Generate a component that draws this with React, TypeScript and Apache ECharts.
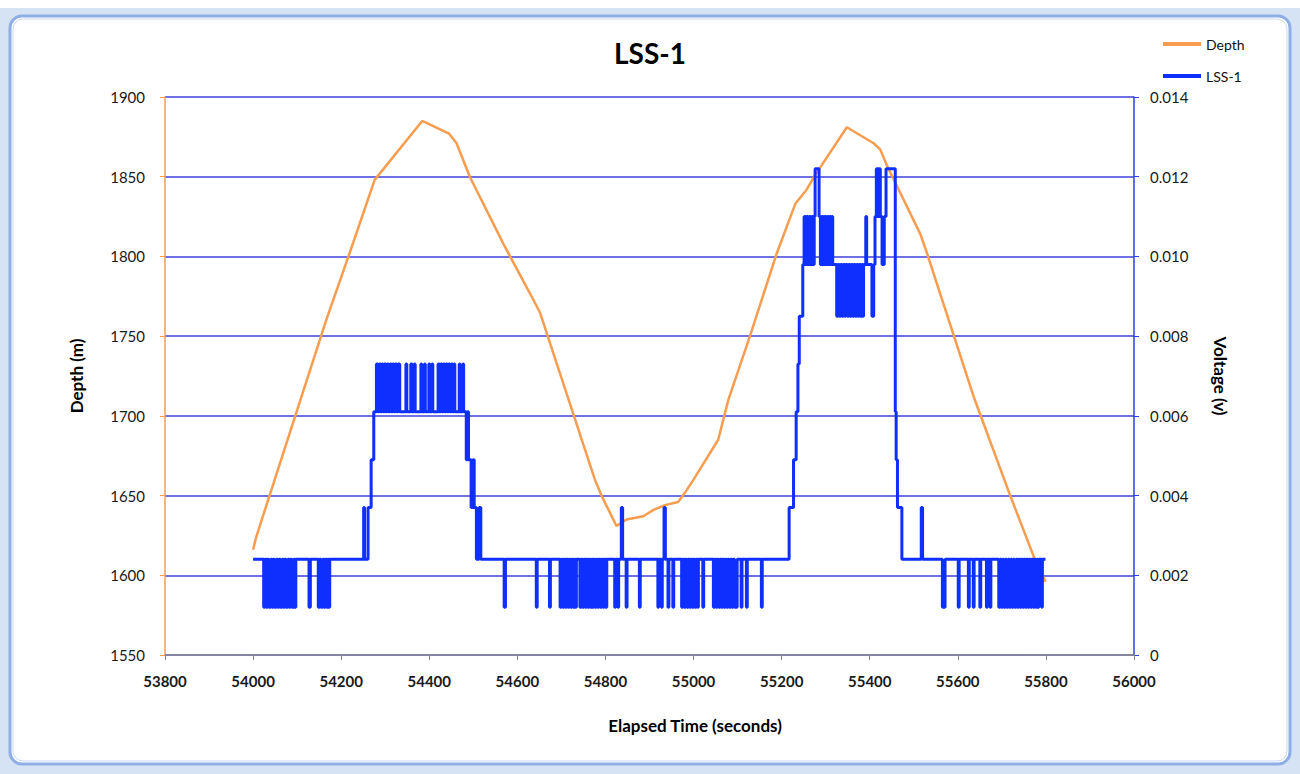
import React, { useEffect, useRef } from "react";
import * as echarts from "echarts";

const FONT = "Lato, 'Open Sans', sans-serif";

// X axis ticks (seconds)
const xMin = 53800;
const xMax = 56000;
const xStep = 200;
// Depth axis
const depthMin = 1550;
const depthMax = 1900;
const depthStep = 50;
// Voltage axis
const voltMin = 0;
const voltMax = 0.014;
const voltStep = 0.002;

// Depth series (m)
const depthTime = [
  54000, 54007, 54166, 54219, 54276, 54384, 54445, 54462, 54492, 54568, 54636, 54651,
  54776, 54791, 54825, 54848, 54886, 54909, 54935, 54965, 54981, 55000, 55056, 55079,
  55128, 55189, 55231, 55257, 55276, 55348, 55409, 55424, 55439, 55515, 55530, 55636,
  55719, 55772, 55799,
];
const depthValue = [
  1616, 1624, 1760, 1802, 1848, 1885, 1877, 1871, 1850, 1808, 1773, 1765,
  1660, 1650, 1631, 1635, 1637, 1641, 1644, 1646, 1652, 1660, 1685, 1710,
  1750, 1802, 1833, 1842, 1851, 1881, 1871, 1867, 1857, 1814, 1802, 1712,
  1650, 1612, 1596,
];

// LSS-1 voltage transitions [time, volts] (value held until next transition)
const lss1Surface1: [number, number][] = [
  [54000, 0.0024],
  [54024, 0.0012], [54027, 0.0024], [54030, 0.0012], [54033, 0.0024], [54036, 0.0012], [54040, 0.0024],
  [54043, 0.0012], [54046, 0.0024], [54049, 0.0012], [54053, 0.0024], [54056, 0.0012], [54059, 0.0024],
  [54062, 0.0012], [54066, 0.0024], [54069, 0.0012], [54072, 0.0024], [54075, 0.0012], [54079, 0.0024],
  [54082, 0.0012], [54085, 0.0024], [54088, 0.0012], [54092, 0.0024], [54094, 0.0012], [54097, 0.0024],
  [54127, 0.0012], [54130, 0.0024],
  [54148, 0.0012], [54151, 0.0024], [54154, 0.0012], [54158, 0.0024], [54161, 0.0012], [54164, 0.0024],
  [54167, 0.0012], [54170, 0.0024], [54172, 0.0012], [54174, 0.0024],
];
const lss1Deep1: [number, number][] = [
  [54251, 0.0037], [54253, 0.0024], [54261, 0.0037], [54268, 0.0049], [54274, 0.0061],
  [54280, 0.0073], [54283, 0.0061], [54286, 0.0073], [54289, 0.0061], [54292, 0.0073], [54295, 0.0061],
  [54298, 0.0073], [54301, 0.0061], [54304, 0.0073], [54307, 0.0061], [54311, 0.0073], [54314, 0.0061],
  [54317, 0.0073], [54320, 0.0061], [54323, 0.0073], [54326, 0.0061], [54329, 0.0073], [54333, 0.0061],
  [54347, 0.0073], [54349, 0.0061], [54358, 0.0073], [54361, 0.0061], [54366, 0.0073], [54368, 0.0061],
  [54381, 0.0073], [54383, 0.0061], [54389, 0.0073], [54391, 0.0061], [54399, 0.0073], [54401, 0.0061],
  [54406, 0.0073], [54408, 0.0061],
  [54420, 0.0073], [54423, 0.0061], [54426, 0.0073], [54429, 0.0061], [54432, 0.0073], [54435, 0.0061],
  [54438, 0.0073], [54441, 0.0061], [54444, 0.0073], [54447, 0.0061], [54450, 0.0073], [54453, 0.0061],
  [54456, 0.0073], [54458, 0.0061],
  [54468, 0.0073], [54470, 0.0061], [54476, 0.0073], [54478, 0.0061],
  [54484, 0.0049], [54487, 0.0061], [54489, 0.0049], [54495, 0.0037], [54499, 0.0049], [54502, 0.0037],
  [54507, 0.0024], [54513, 0.0037], [54517, 0.0024],
];
const lss1Surface2: [number, number][] = [
  [54570, 0.0012], [54573, 0.0024], [54643, 0.0012], [54645, 0.0024], [54673, 0.0012], [54675, 0.0024],
  [54697, 0.0012], [54700, 0.0024], [54703, 0.0012], [54706, 0.0024], [54709, 0.0012], [54712, 0.0024],
  [54715, 0.0012], [54718, 0.0024], [54721, 0.0012], [54724, 0.0024], [54727, 0.0012], [54730, 0.0024],
  [54732, 0.0012], [54734, 0.0024],
  [54742, 0.0012], [54745, 0.0024], [54748, 0.0012], [54751, 0.0024], [54754, 0.0012], [54757, 0.0024],
  [54760, 0.0012], [54763, 0.0024], [54766, 0.0012], [54769, 0.0024], [54771, 0.0012], [54773, 0.0024],
  [54776, 0.0012], [54779, 0.0024], [54782, 0.0012], [54785, 0.0024], [54788, 0.0012], [54791, 0.0024],
  [54794, 0.0012], [54797, 0.0024], [54800, 0.0012], [54803, 0.0024],
  [54821, 0.0012], [54823, 0.0024], [54828, 0.0012], [54830, 0.0024], [54836, 0.0037], [54839, 0.0024],
  [54847, 0.0012], [54849, 0.0024], [54877, 0.0012], [54879, 0.0024],
  [54919, 0.0012], [54921, 0.0024], [54927, 0.0012], [54929, 0.0024], [54933, 0.0037], [54936, 0.0024],
  [54942, 0.0012], [54944, 0.0024], [54953, 0.0012], [54955, 0.0024],
  [54973, 0.0012], [54976, 0.0024], [54979, 0.0012], [54982, 0.0024], [54985, 0.0012], [54988, 0.0024],
  [54991, 0.0012], [54994, 0.0024], [54997, 0.0012], [55000, 0.0024], [55003, 0.0012], [55006, 0.0024],
  [55009, 0.0012], [55011, 0.0024],
  [55021, 0.0012], [55023, 0.0024],
  [55045, 0.0012], [55048, 0.0024], [55051, 0.0012], [55054, 0.0024], [55057, 0.0012], [55060, 0.0024],
  [55063, 0.0012], [55066, 0.0024], [55069, 0.0012], [55072, 0.0024], [55075, 0.0012], [55078, 0.0024],
  [55081, 0.0012], [55084, 0.0024], [55087, 0.0012], [55090, 0.0024], [55093, 0.0012], [55096, 0.0024],
  [55097, 0.0012], [55099, 0.0024],
  [55108, 0.0012], [55110, 0.0024], [55120, 0.0012], [55122, 0.0024], [55154, 0.0012], [55156, 0.0024],
];
const lss1Deep2: [number, number][] = [
  [55217, 0.0037], [55227, 0.0049], [55233, 0.0061], [55237, 0.0073], [55240, 0.0085], [55248, 0.0098],
  [55251, 0.011], [55254, 0.0098], [55257, 0.011], [55260, 0.0098], [55263, 0.011], [55266, 0.0098],
  [55269, 0.011], [55272, 0.0098], [55274, 0.011],
  [55276, 0.0122], [55285, 0.011],
  [55288, 0.0098], [55291, 0.011], [55294, 0.0098], [55297, 0.011], [55300, 0.0098], [55303, 0.011],
  [55306, 0.0098], [55309, 0.011], [55312, 0.0098], [55314, 0.011], [55316, 0.0098],
  [55325, 0.0085], [55328, 0.0098], [55331, 0.0085], [55334, 0.0098], [55337, 0.0085], [55340, 0.0098],
  [55343, 0.0085], [55345, 0.0098], [55349, 0.0085], [55352, 0.0098], [55355, 0.0085], [55358, 0.0098],
  [55361, 0.0085], [55364, 0.0098], [55367, 0.0085], [55370, 0.0098], [55373, 0.0085], [55376, 0.0098],
  [55379, 0.0085], [55382, 0.0098], [55384, 0.0085], [55386, 0.0098],
  [55391, 0.011], [55393, 0.0098], [55405, 0.0085], [55409, 0.0098],
  [55412, 0.011], [55415, 0.0122], [55419, 0.011], [55421, 0.0122], [55424, 0.011], [55428, 0.0098],
  [55433, 0.011], [55437, 0.0122], [55458, 0.0061], [55460, 0.0049], [55463, 0.0037], [55473, 0.0024],
];
const lss1Surface3: [number, number][] = [
  [55517, 0.0037], [55520, 0.0024],
  [55565, 0.0012], [55568, 0.0024], [55569, 0.0012], [55571, 0.0024],
  [55601, 0.0012], [55603, 0.0024], [55624, 0.0012], [55626, 0.0024], [55635, 0.0012], [55637, 0.0024],
  [55650, 0.0012], [55652, 0.0024], [55665, 0.0012], [55667, 0.0024], [55673, 0.0012], [55675, 0.0024],
  [55693, 0.0012], [55696, 0.0024], [55699, 0.0012], [55702, 0.0024], [55705, 0.0012], [55708, 0.0024],
  [55711, 0.0012], [55714, 0.0024], [55717, 0.0012], [55720, 0.0024], [55723, 0.0012], [55726, 0.0024],
  [55729, 0.0012], [55732, 0.0024], [55735, 0.0012], [55738, 0.0024], [55741, 0.0012], [55744, 0.0024],
  [55747, 0.0012], [55750, 0.0024], [55753, 0.0012], [55756, 0.0024], [55759, 0.0012], [55762, 0.0024],
  [55765, 0.0012], [55768, 0.0024], [55771, 0.0012], [55774, 0.0024], [55777, 0.0012], [55780, 0.0024],
  [55782, 0.0012], [55784, 0.0024],
  [55790, 0.0012], [55792, 0.0024], [55799, 0.0024],
];

const ORANGE = "#f89d4f";
const BLUE = "#0f2fff";
const GRID_BLUE = "#4040dc";

export default function App() {
  const ref = useRef<HTMLDivElement>(null);
  useEffect(() => {
    if (!ref.current) return;
    const chart = echarts.init(ref.current, null, { renderer: "svg" });
    const depthData = depthTime.map((t, i) => [t, depthValue[i]]);
    const lss1Data = [...lss1Surface1, ...lss1Deep1, ...lss1Surface2, ...lss1Deep2, ...lss1Surface3];
    chart.setOption({
      animation: false,
      backgroundColor: "#ffffff",
      textStyle: { fontFamily: FONT },
      graphic: [
        { type: "rect", z: -10, silent: true, shape: { x: 0, y: 8, width: 1300, height: 766 }, style: { fill: "#d6e3f5" } },
        { type: "rect", z: -9, silent: true, shape: { x: 10, y: 16, width: 1280, height: 748, r: 12 }, style: { fill: "#ffffff", stroke: "#8eaee6", lineWidth: 3 } },
        { type: "rect", z: -8, silent: true, shape: { x: 13, y: 19, width: 1274, height: 742, r: 10 }, style: { fill: "none", stroke: "#c9d9f3", lineWidth: 1 } },
      ],
      title: {
        text: "LSS-1",
        left: "center",
        top: 34,
        textStyle: { fontFamily: FONT, fontSize: 28, fontWeight: "bold", color: "#000" },
      },
      legend: {
        orient: "vertical",
        left: 1163,
        top: 37,
        padding: 0,
        itemWidth: 38,
        itemHeight: 4,
        itemGap: 18,
        textStyle: { fontFamily: FONT, fontSize: 14, color: "#111" },
        data: [
          { name: "Depth", icon: "rect", itemStyle: { color: ORANGE } },
          { name: "LSS-1", icon: "rect", itemStyle: { color: BLUE } },
        ],
      },
      grid: { left: 165, right: 166, top: 97, bottom: 119, containLabel: false },
      xAxis: {
        type: "value",
        min: xMin,
        max: xMax,
        interval: xStep,
        name: "Elapsed Time (seconds)",
        nameLocation: "middle",
        nameGap: 62,
        nameTextStyle: { fontFamily: FONT, fontSize: 17, fontWeight: "bold", color: "#000", padding: [0, 0, 0, 91] },
        axisLine: { show: true, lineStyle: { color: "#8c8c8c", width: 1.5 } },
        axisTick: { show: true, length: 5, lineStyle: { color: "#8c8c8c" } },
        axisLabel: { formatter: (v: number) => String(v), fontSize: 15, fontWeight: "bold", color: "#1a1a1a", margin: 18, fontFamily: FONT },
        splitLine: { show: false },
      },
      yAxis: [
        {
          type: "value",
          position: "left",
          min: depthMin,
          max: depthMax,
          interval: depthStep,
          name: "Depth (m)",
          nameLocation: "middle",
          nameRotate: 90,
          nameGap: 80,
          nameTextStyle: { fontFamily: FONT, fontSize: 17, fontWeight: "bold", color: "#000" },
          axisLine: { show: true, lineStyle: { color: ORANGE, width: 1.5 } },
          axisTick: { show: true, length: 5, lineStyle: { color: ORANGE } },
          axisLabel: { fontSize: 15, color: "#1a1a1a", margin: 20, fontFamily: FONT, formatter: (v: number) => String(v) },
          splitLine: { show: false },
        },
        {
          type: "value",
          position: "right",
          min: voltMin,
          max: voltMax,
          interval: voltStep,
          name: "Voltage (v)",
          nameLocation: "middle",
          nameRotate: -90,
          nameGap: 78,
          nameTextStyle: { fontFamily: FONT, fontSize: 17, fontWeight: "bold", color: "#000" },
          axisLine: { show: true, lineStyle: { color: "#2d3ff0", width: 1.5 } },
          axisTick: { show: true, length: 5, lineStyle: { color: "#2d3ff0" } },
          axisLabel: {
            fontSize: 15,
            color: "#1a1a1a",
            margin: 16,
            fontFamily: FONT,
            formatter: (v: number) => (v === 0 ? "0" : v.toFixed(3)),
          },
          splitLine: { show: true, lineStyle: { color: GRID_BLUE, width: 1.5 } },
        },
      ],
      series: [
        {
          name: "Depth",
          type: "line",
          yAxisIndex: 0,
          data: depthData,
          symbol: "none",
          color: ORANGE,
          lineStyle: { color: ORANGE, width: 2.5 },
          z: 2,
        },
        {
          name: "LSS-1",
          type: "line",
          yAxisIndex: 1,
          data: lss1Data,
          step: "end",
          symbol: "none",
          color: BLUE,
          lineStyle: { color: BLUE, width: 3 },
          z: 3,
        },
      ],
    });
    return () => chart.dispose();
  }, []);
  return (
    <div
      ref={ref}
      style={{ position: "fixed", left: 0, top: 0, width: 1300, height: 774 }}
    />
  );
}
